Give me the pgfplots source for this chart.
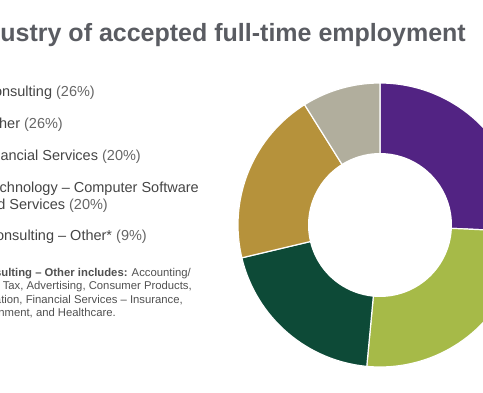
\documentclass[border=0pt]{standalone}
\usepackage{pgfplots}
\pgfplotsset{compat=1.18}
\usepackage{fontspec}
\setmainfont{Liberation Sans}
\definecolor{cPurple}{HTML}{522383}
\definecolor{cLime}{HTML}{A6BA48}
\definecolor{cDark}{HTML}{0D4A37}
\definecolor{cGold}{HTML}{B6923B}
\definecolor{cGrey}{HTML}{B1AE9D}
\definecolor{tTitle}{HTML}{5A5C62}
\definecolor{tLab}{HTML}{454545}
\definecolor{tPct}{HTML}{666666}
\definecolor{tFoot}{HTML}{505050}
% slice values (percent, as printed)
\def\vA{26}\def\vB{26}\def\vC{20}\def\vD{20}\def\vE{9}
\pgfmathsetmacro{\tot}{\vA+\vB+\vC+\vD+\vE}
\pgfmathsetmacro{\aA}{90}
\pgfmathsetmacro{\aB}{\aA-\vA*360/\tot}
\pgfmathsetmacro{\aC}{\aB-\vB*360/\tot}
\pgfmathsetmacro{\aD}{\aC-\vC*360/\tot}
\pgfmathsetmacro{\aE}{\aD-\vD*360/\tot}
\pgfmathsetmacro{\aF}{\aE-\vE*360/\tot}
\begin{document}
\begin{tikzpicture}[x=1pt,y=1pt]
\path[use as bounding box] (0,0) rectangle (483,-393);
\clip (0,0) rectangle (483,-393);
% title
\node[anchor=base east, inner sep=0, font=\fontsize{25}{30}\selectfont\bfseries, text=tTitle] at (466,-42) {Industry of accepted full-time employment};
% legend
\begin{scope}[every node/.style={anchor=base east, inner sep=0, font=\fontsize{14.5}{17}\selectfont, text=tLab}]
\node at (95,-97) {Consulting \textcolor{tPct}{(26\%)}};
\node at (63,-129) {Other \textcolor{tPct}{(26\%)}};
\node at (141,-161) {Financial Services \textcolor{tPct}{(20\%)}};
\node at (199,-192.5) {Technology -- Computer Software};
\node at (108,-209.5) {and Services \textcolor{tPct}{(20\%)}};
\node at (147,-240.5) {Consulting -- Other* \textcolor{tPct}{(9\%)}};
\end{scope}
\begin{scope}[every node/.style={anchor=base east, inner sep=0, font=\fontsize{11.3}{14}\selectfont, text=tFoot}]
\node at (191,-276.5) {\textbf{*Consulting -- Other includes:} Accounting/};
\node at (192,-290) {Tax, Advertising, Consumer Products,};
\node at (183,-303.5) {Education, Financial Services -- Insurance,};
\node at (116,-317) {Entertainment, and Healthcare.};
\end{scope}
% donut
\begin{axis}[hide axis, x=1pt, y=1pt, xmin=-145, xmax=145, ymin=-145, ymax=145,
  anchor=origin, at={(380,-225)}, clip=false]
\addplot[fill=cPurple, draw=white, line width=1.2pt, domain=\aB:\aA, samples=80, variable=\t] ({142*cos(\t)},{142*sin(\t)}) -- (0,0) -- cycle;
\addplot[fill=cLime, draw=white, line width=1.2pt, domain=\aC:\aB, samples=80, variable=\t] ({142*cos(\t)},{142*sin(\t)}) -- (0,0) -- cycle;
\addplot[fill=cDark, draw=white, line width=1.2pt, domain=\aD:\aC, samples=80, variable=\t] ({142*cos(\t)},{142*sin(\t)}) -- (0,0) -- cycle;
\addplot[fill=cGold, draw=white, line width=1.2pt, domain=\aE:\aD, samples=80, variable=\t] ({142*cos(\t)},{142*sin(\t)}) -- (0,0) -- cycle;
\addplot[fill=cGrey, draw=white, line width=1.2pt, domain=\aF:\aE, samples=40, variable=\t] ({142*cos(\t)},{142*sin(\t)}) -- (0,0) -- cycle;
\addplot[fill=white, draw=none, domain=0:360, samples=120, variable=\t] ({72*cos(\t)},{72*sin(\t)}) -- cycle;
\end{axis}
\end{tikzpicture}
\end{document}
